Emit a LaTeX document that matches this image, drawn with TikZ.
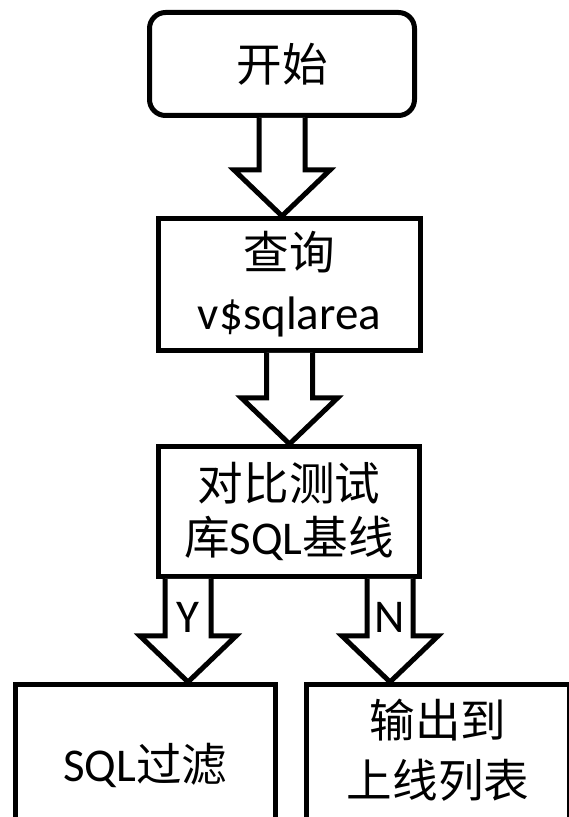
\documentclass[tikz,border=0pt]{standalone}
\usepackage{fontspec}
\setmainfont{Carlito}
\newfontfamily\cjk[Scale=0.97]{Noto Sans CJK SC}
\usetikzlibrary{calc}

\tikzset{
  block/.style={
    rectangle, draw=black, fill=white,
    line width=5pt, minimum width=#1, minimum height=132pt,
    align=center, inner sep=0pt,
    font=\fontsize{47}{60}\selectfont
  },
  block/.default=262pt,
  startblock/.style={block=265pt, rounded corners=16pt, minimum height=103pt},
  hollow/.style={draw=black, fill=white, line width=5pt, line join=miter},
  flag/.style={font=\fontsize{47}{60}\selectfont, inner sep=0pt}
}

% hollow block arrow from #1 (shaft start) down to #2 (tip)
\newcommand{\hollowarrow}[2]{%
  \path[hollow] let \p1=(#1), \p2=(#2) in
    (\x1-23pt,\y1) -- (\x1-23pt,\y2+46pt) -- (\x1-48pt,\y2+46pt) -- (\x1,\y2)
    -- (\x1+48pt,\y2+46pt) -- (\x1+23pt,\y2+46pt) -- (\x1+23pt,\y1);%
}

\begin{document}
\begin{tikzpicture}[x=1pt, y=1pt]

  \useasboundingbox (0,0) rectangle (568,817);

  % boxes
  \node[startblock] (start) at (282,753) {\cjk 开始};
  \node[block] (query) at (289.5,532.5) {{\cjk 查询}\\v\$sqlarea};
  \node[block=261pt, minimum height=130pt] (compare) at (289,305.5)
    {{\cjk 对比测试}\\[-6pt]{\cjk 库}SQL{\cjk 基线}};
  \node[block=260pt, minimum height=161pt] (filter) at (145.5,52)
    {SQL{\cjk 过滤}};
  \node[block=263pt, minimum height=150pt, text depth=23pt] (output) at (438,57.5)
    {{\cjk 输出到}\\{\cjk 上线列表}};

  % arrows
  \hollowarrow{start.south}{start.south |- query.north}
  \hollowarrow{query.south}{query.south |- compare.north}

  \coordinate (ybase) at ([xshift=32pt]compare.south west);
  \coordinate (nbase) at ([xshift=-32pt]compare.south east);
  \hollowarrow{ybase}{ybase |- filter.north}
  \hollowarrow{nbase}{nbase |- output.north}

  \node[flag] (yes) at ([yshift=-38pt]ybase) {Y};
  \node[flag] (no)  at ([yshift=-38pt]nbase) {N};

\end{tikzpicture}
\end{document}
